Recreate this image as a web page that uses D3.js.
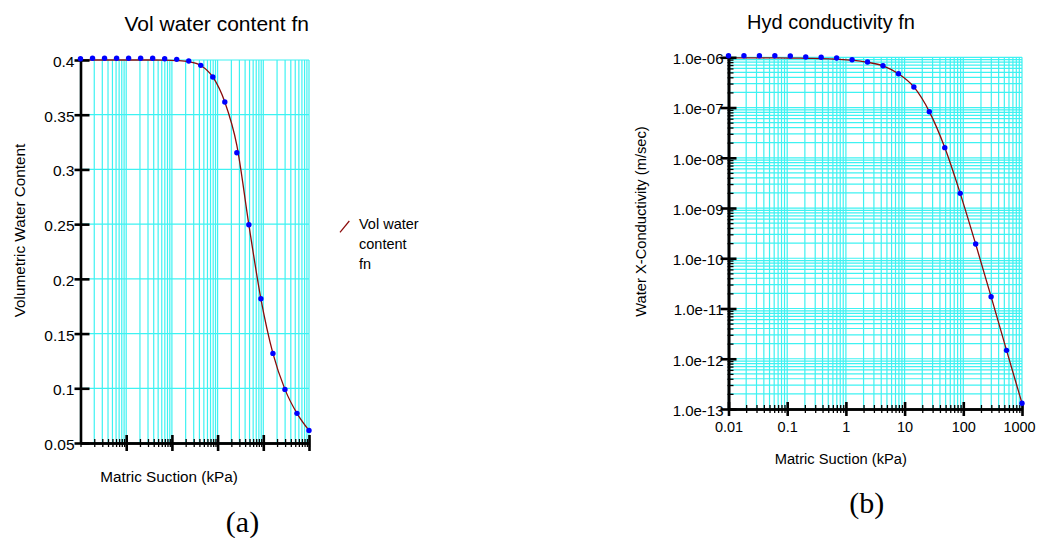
<!DOCTYPE html>
<html>
<head>
<meta charset="utf-8">
<script src="https://cdn.jsdelivr.net/npm/d3@7"></script>
<style>
  body { margin: 0; background: #fff; }
  text { font-family: "Liberation Sans", Arial, sans-serif; fill: #000; }
</style>
</head>
<body>
<div id="chart"></div>
<script>
// Matric suction (kPa) of the 20 sample points, same for both panels
var suction = [0.01, 0.01833, 0.0336, 0.06158, 0.1129, 0.2069, 0.3793, 0.6952, 1.274, 2.336,
               4.281, 7.848, 14.38, 26.37, 48.33, 88.59, 162.4, 297.6, 545.6, 1000];

// (a) volumetric water content: sample dots and fitted curve
var vwcPoints = [0.4012, 0.4016, 0.4016, 0.4016, 0.4016, 0.4016, 0.4016, 0.4012, 0.4006, 0.3991,
                 0.3951, 0.3845, 0.3616, 0.3153, 0.2494, 0.1818, 0.1319, 0.0990, 0.0771, 0.0615];
var vwcCurve  = [0.4, 0.4, 0.4, 0.4, 0.4, 0.4, 0.4, 0.3999, 0.3995, 0.3985,
                 0.395, 0.3845, 0.3616, 0.322, 0.2494, 0.1818, 0.1319, 0.099, 0.0771, 0.0615];

// (b) hydraulic conductivity (m/sec): sample dots and fitted curve
var hydPoints = [1.076e-6, 1.076e-6, 1.076e-6, 1.076e-6, 1.06e-6, 1.014e-6, 1.0e-6, 9.68e-7, 8.96e-7, 8.06e-7,
                 6.8e-7, 4.72e-7, 2.57e-7, 8.27e-8, 1.59e-8, 1.96e-9, 1.92e-10, 1.72e-11, 1.47e-12, 1.3e-13];
var hydCurve  = [9.7e-7, 9.7e-7, 9.7e-7, 9.7e-7, 9.65e-7, 9.55e-7, 9.4e-7, 9.15e-7, 8.75e-7, 7.95e-7,
                 6.75e-7, 4.7e-7, 2.57e-7, 8.3e-8, 1.6e-8, 1.96e-9, 1.92e-10, 1.72e-11, 1.47e-12, 1.3e-13];

// tick values and labels
var vwcTicks = [0.05, 0.1, 0.15, 0.2, 0.25, 0.3, 0.35, 0.4];
var vwcTickLabels = ["0.05", "0.1", "0.15", "0.2", "0.25", "0.3", "0.35", "0.4"];
var suctionTicks = [0.01, 0.1, 1, 10, 100, 1000];
var suctionTickLabels = ["0.01", "0.1", "1", "10", "100", "1000"];
var hydTicks = [1e-13, 1e-12, 1e-11, 1e-10, 1e-9, 1e-8, 1e-7, 1e-6];
var hydTickLabels = ["1.0e-13", "1.0e-12", "1.0e-11", "1.0e-10", "1.0e-09", "1.0e-08", "1.0e-07", "1.0e-06"];

var legendLines = ["Vol water", "content", "fn"];

var width = 1037, height = 538;
var gridColor = "#3ef2f2", curveColor = "#8b0a0a", dotColor = "#0000ff";
var font = '"Liberation Sans", Arial, sans-serif';

var svg = d3.select("#chart").append("svg")
  .attr("width", width)
  .attr("height", height);

svg.append("rect").attr("width", width).attr("height", height).attr("fill", "#fff");

function grid(g, x, y, xs, ys) {
  var x0 = x.range()[0], x1 = x.range()[1], y0 = y.range()[0], y1 = y.range()[1];
  g.append("g").selectAll("line").data(xs).enter().append("line")
    .attr("x1", function(d) { return x(d); }).attr("x2", function(d) { return x(d); })
    .attr("y1", y0).attr("y2", y1)
    .attr("stroke", gridColor).attr("stroke-width", 1.2);
  g.append("g").selectAll("line").data(ys).enter().append("line")
    .attr("y1", function(d) { return y(d); }).attr("y2", function(d) { return y(d); })
    .attr("x1", x0).attr("x2", x1)
    .attr("stroke", gridColor).attr("stroke-width", 1.2);
}

function curveAndDots(g, x, y, curveVals, dotVals) {
  var line = d3.line()
    .x(function(d) { return x(d[0]); })
    .y(function(d) { return y(d[1]); })
    .curve(d3.curveMonotoneX);
  g.append("path")
    .datum(d3.zip(suction, curveVals))
    .attr("d", line)
    .attr("fill", "none")
    .attr("stroke", curveColor)
    .attr("stroke-width", 1.3);
  return function() {
    g.append("g").selectAll("circle").data(d3.zip(suction, dotVals)).enter().append("circle")
      .attr("cx", function(d) { return x(d[0]); })
      .attr("cy", function(d) { return y(d[1]); })
      .attr("r", 2.7)
      .attr("fill", dotColor);
  };
}

// set tick marks to cross the axis line
function styleTicks(axisG, a, b, w, vertical) {
  axisG.selectAll(".tick line")
    .attr(vertical ? "x1" : "y1", a)
    .attr(vertical ? "x2" : "y2", b)
    .attr("stroke", "#000")
    .attr("stroke-width", w);
  axisG.select(".domain").attr("stroke", "#000").attr("stroke-width", 2.6);
}

// ---------- (a) Vol water content fn ----------
(function() {
  var x = d3.scaleLog().domain([0.01, 1000]).range([80.5, 309]);
  var y = d3.scaleLinear().domain([0.05, 0.4]).range([443, 60]);
  var g = svg.append("g");

  grid(g, x, y, x.ticks(), vwcTicks);
  var drawDots = curveAndDots(g, x, y, vwcCurve, vwcPoints);

  var xMinor = g.append("g").attr("transform", "translate(0," + y(0.05) + ")")
    .call(d3.axisBottom(x).tickValues(x.ticks()).tickFormat("").tickSizeOuter(0));
  styleTicks(xMinor, -4, 4, 1.3, false);
  var xMajor = g.append("g").attr("transform", "translate(0," + y(0.05) + ")")
    .call(d3.axisBottom(x).tickValues(suctionTicks.slice(1)).tickFormat("").tickSizeOuter(0));
  styleTicks(xMajor, -8, 8, 2.6, false);

  var yAxis = g.append("g").attr("transform", "translate(" + x(0.01) + ",0)")
    .call(d3.axisLeft(y).tickValues(vwcTicks)
      .tickFormat(function(d, i) { return vwcTickLabels[i]; })
      .tickSizeOuter(0));
  styleTicks(yAxis, 9, -6, 2.6, true);
  yAxis.attr("font-family", font).attr("font-size", 15.5);
  yAxis.selectAll(".tick text").attr("x", -6).attr("dy", "0.42em").attr("fill", "#000");

  drawDots();

  g.append("text").attr("x", 216.7).attr("y", 30.5).attr("text-anchor", "middle")
    .attr("font-size", 21).text("Vol water content fn");
  g.append("text").attr("x", 169).attr("y", 481.7).attr("text-anchor", "middle")
    .attr("font-size", 15.3).text("Matric Suction (kPa)");
  g.append("text").attr("transform", "translate(25,230.5) rotate(-90)").attr("text-anchor", "middle")
    .attr("font-size", 15.3).text("Volumetric Water Content");

  // legend
  g.append("line").attr("x1", 340).attr("y1", 232.3).attr("x2", 349.3).attr("y2", 221)
    .attr("stroke", curveColor).attr("stroke-width", 1.2);
  g.append("g").selectAll("text").data(legendLines).enter().append("text")
    .attr("x", 359)
    .attr("y", function(d, i) { return 229.3 + i * 20; })
    .attr("font-size", 14.5)
    .text(function(d) { return d; });

  g.append("text").attr("x", 242.5).attr("y", 532).attr("text-anchor", "middle")
    .attr("font-size", 30).style("font-family", '"Liberation Serif", "Times New Roman", serif')
    .text("(a)");
})();

// ---------- (b) Hyd conductivity fn ----------
(function() {
  var x = d3.scaleLog().domain([0.01, 1000]).range([728.5, 1022]);
  var y = d3.scaleLog().domain([1e-13, 1e-6]).range([409, 57.3]);
  var g = svg.append("g");

  grid(g, x, y, x.ticks(), y.ticks());
  var drawDots = curveAndDots(g, x, y, hydCurve, hydPoints);

  var xMinor = g.append("g").attr("transform", "translate(0," + y(1e-13) + ")")
    .call(d3.axisBottom(x).tickValues(x.ticks()).tickFormat("").tickSizeOuter(0));
  styleTicks(xMinor, -4, 4, 1.3, false);
  var xMajor = g.append("g").attr("transform", "translate(0," + y(1e-13) + ")")
    .call(d3.axisBottom(x).tickValues(suctionTicks)
      .tickFormat(function(d, i) { return suctionTickLabels[i]; })
      .tickSizeOuter(0));
  styleTicks(xMajor, -7, 7, 2.6, false);
  xMajor.attr("font-family", font).attr("font-size", 14.5);
  xMajor.selectAll(".tick text").attr("y", 23).attr("dy", 0).attr("fill", "#000")
    .attr("dx", function(d) { return d === 1000 ? -3 : 0; });

  var yMinor = g.append("g").attr("transform", "translate(" + x(0.01) + ",0)")
    .call(d3.axisLeft(y).tickValues(y.ticks()).tickFormat("").tickSizeOuter(0));
  styleTicks(yMinor, 5, -1, 1.3, true);
  var yMajor = g.append("g").attr("transform", "translate(" + x(0.01) + ",0)")
    .call(d3.axisLeft(y).tickValues(hydTicks)
      .tickFormat(function(d, i) { return hydTickLabels[i]; })
      .tickSizeOuter(0));
  styleTicks(yMajor, 8, -8, 2.6, true);
  yMajor.attr("font-family", font).attr("font-size", 15);
  yMajor.selectAll(".tick text").attr("x", -5).attr("dy", "0.42em").attr("fill", "#000");

  drawDots();

  g.append("text").attr("x", 831).attr("y", 29.3).attr("text-anchor", "middle")
    .attr("font-size", 20).text("Hyd conductivity fn");
  g.append("text").attr("x", 840.8).attr("y", 464).attr("text-anchor", "middle")
    .attr("font-size", 14.7).text("Matric Suction (kPa)");
  g.append("text").attr("transform", "translate(646,221.5) rotate(-90)").attr("text-anchor", "middle")
    .attr("font-size", 14.7).text("Water X-Conductivity (m/sec)");

  g.append("text").attr("x", 866.7).attr("y", 513).attr("text-anchor", "middle")
    .attr("font-size", 30).style("font-family", '"Liberation Serif", "Times New Roman", serif')
    .text("(b)");
})();
</script>
</body>
</html>
